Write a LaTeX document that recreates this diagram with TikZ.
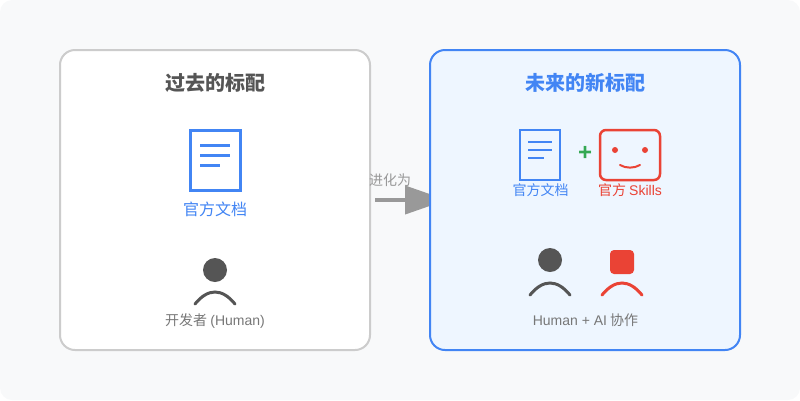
\documentclass[tikz,border=0pt]{standalone}
\usepackage{fontspec}
\usepackage{xcolor}
\usetikzlibrary{arrows.meta}
\setmainfont{Liberation Sans}
\newfontfamily\cjk{Noto Sans CJK SC}

\definecolor{pagebg}{HTML}{F8F9FA}
\definecolor{cardline}{HTML}{CCCCCC}
\definecolor{newbg}{HTML}{EEF6FF}
\definecolor{gblue}{HTML}{4285F4}
\definecolor{gred}{HTML}{EA4335}
\definecolor{ggreen}{HTML}{34A853}
\definecolor{darkgray}{HTML}{555555}
\definecolor{midgray}{HTML}{777777}
\definecolor{arrowgray}{HTML}{999999}

\begin{document}
\begin{tikzpicture}[
			x=1pt, y=-1pt,
			card/.style={draw, rounded corners=15pt, minimum width=310pt, minimum height=300pt, line width=2pt, inner sep=0pt, outer sep=0pt},
			doc/.style={draw=gblue, inner sep=0pt, outer sep=0pt},
			docline/.style={gblue},
			label/.style={anchor=base, inner sep=0pt, font=\cjk\fontsize{14pt}{14pt}\selectfont},
			heading/.style={anchor=base, inner sep=0pt, font=\cjk\bfseries\fontsize{20pt}{20pt}\selectfont},
			head/.style={circle, fill=darkgray, minimum size=24pt, inner sep=0pt, outer sep=0pt},
			shoulders/.style={line width=3pt, line cap=round}
		]
		\useasboundingbox (0,0) rectangle (800,400);
		\fill[pagebg, rounded corners=12pt] (0,0) rectangle (800,400);

		% left card
		\node[card, draw=cardline, fill=white] (oldcard) at (215,200) {};
		\node[heading, text=darkgray] (oldtitle) at (215,90) {过去的标配};

		\node[doc, line width=3pt, minimum width=50pt, minimum height=60pt] (olddoc) at (215,160) {};
		\draw[docline, line width=3pt] (200,145) -- (230,145);
		\draw[docline, line width=3pt] (200,155) -- (230,155);
		\draw[docline, line width=3pt] (200,165) -- (220,165);
		\node[label, text=gblue, font=\cjk\fontsize{16pt}{16pt}\selectfont] (olddoctext) at (215,215) {官方文档};

		\node[head] (oldhead) at (215,270) {};
		\draw[shoulders, darkgray] (195,304) .. controls (208,288) and (222,288) .. (235,304);
		\node[label, text=midgray] (oldhuman) at (215,325) {开发者 {\rmfamily (Human)}};

		% arrow goes under the right card
		\coordinate (arrowtip) at (447,200);
		\draw[arrowgray, line width=4pt, shorten <=5pt, -{Triangle[length=42pt, width=28pt]}] (oldcard.east) -- (arrowtip);
		\node[label, text=arrowgray] (arrowtext) at (390,185) {进化为};

		% right card
		\node[card, draw=gblue, fill=newbg] (newcard) at (585,200) {};
		\node[heading, text=gblue] (newtitle) at (585,90) {未来的新标配};

		\node[doc, line width=2.5pt, minimum width=40pt, minimum height=50pt] (newdoc) at (540,155) {};
		\draw[docline, line width=2.5pt] (528,142) -- (552,142);
		\draw[docline, line width=2.5pt] (528,150) -- (552,150);
		\draw[docline, line width=2.5pt] (528,158) -- (544,158);
		\node[label, text=gblue] (newdoctext) at (540.5,195) {官方文档};

		\node[text=ggreen, inner sep=0pt, font=\bfseries\fontsize{24pt}{24pt}\selectfont] (plus) at (585,153) {+};

		\node[draw=gred, line width=2.5pt, rounded corners=6pt, minimum width=60pt, minimum height=50pt, inner sep=0pt, outer sep=0pt] (skillbox) at (630,155) {};
		\node[circle, fill=gred, minimum size=6pt, inner sep=0pt] (lefteye) at (615,150) {};
		\node[circle, fill=gred, minimum size=6pt, inner sep=0pt] (righteye) at (645,150) {};
		\draw[gred, line width=2pt, line cap=round] (620,165) .. controls (626,168.5) and (634,168.5) .. (640,165);
		\node[label, text=gred] (skilltext) at (630,195) {官方 {\rmfamily Skills}};

		\node[head] (newhead) at (550,260) {};
		\draw[shoulders, darkgray] (530,295) .. controls (543,279) and (557,279) .. (570,295);

		\node[fill=gred, rounded corners=4pt, minimum size=24pt, inner sep=0pt, outer sep=0pt] (aihead) at (622,262) {};
		\draw[shoulders, gred] (602,295) .. controls (615,279) and (629,279) .. (642,295);

		\node[label, text=midgray] (newhuman) at (585.5,325) {{\rmfamily Human + AI} 协作};
	\end{tikzpicture}
\end{document}
